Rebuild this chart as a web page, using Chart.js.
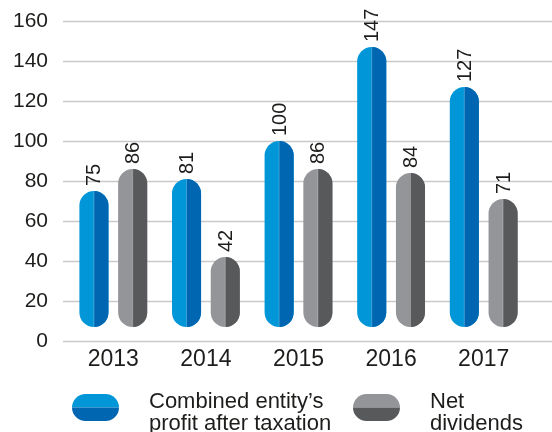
<!DOCTYPE html>
<html>
<head>
<meta charset="utf-8">
<script src="https://cdn.jsdelivr.net/npm/chart.js@4.4.0/dist/chart.umd.min.js"></script>
<style>
  html, body { margin: 0; padding: 0; background: #fff; }
  #chartDisplay { width: 552px; height: 432px; }
</style>
</head>
<body>
<div id="chartDisplay"><canvas id="myChart" width="552" height="432"></canvas></div>
<script>
const years = ['2013', '2014', '2015', '2016', '2017'];
const profit = [75, 81, 100, 147, 127];
const dividends = [86, 42, 86, 84, 71];
const seriesNames = [['Combined entity\u2019s', 'profit after taxation'], ['Net', 'dividends']];

const fontFamily = '"Liberation Sans", Arial, Helvetica, sans-serif';
const textColor = '#1d1d1b';
// light / dark half of each pill
const blueTones = ['#0096d8', '#0066b1'];
const greyTones = ['#939598', '#58595b'];
const barBase = 7; // pills float a little above zero

// horizontal grid lines running past the plot, and the y tick labels
const gridPlugin = {
  id: 'grid',
  beforeDatasetsDraw(chart) {
    const ctx = chart.ctx;
    const y = chart.scales.y;
    ctx.save();
    ctx.strokeStyle = '#c9c9c9';
    ctx.lineWidth = 1.4;
    ctx.font = '21px ' + fontFamily;
    ctx.fillStyle = textColor;
    ctx.textAlign = 'right';
    ctx.textBaseline = 'middle';
    y.ticks.forEach(t => {
      const py = Math.round(y.getPixelForValue(t.value)) + 0.5;
      ctx.beginPath();
      ctx.moveTo(chart.chartArea.left - 4, py);
      ctx.lineTo(chart.width, py);
      ctx.stroke();
      ctx.fillText(String(t.value), chart.chartArea.left - 19, py);
    });
    ctx.restore();
  }
};

// right half of each pill in the darker tone, plus the value labels
const pillPlugin = {
  id: 'pills',
  afterDatasetsDraw(chart) {
    const ctx = chart.ctx;
    chart.data.datasets.forEach((ds, di) => {
      const meta = chart.getDatasetMeta(di);
      meta.data.forEach((bar, i) => {
        const p = bar.getProps(['x', 'y', 'base', 'width'], true);
        const left = p.x - p.width / 2;
        const top = Math.min(p.y, p.base);
        const h = Math.abs(p.base - p.y);
        ctx.save();
        ctx.beginPath();
        ctx.rect(p.x, top - 2, p.width, h + 4);
        ctx.clip();
        ctx.beginPath();
        ctx.roundRect(left, top, p.width, h, p.width / 2);
        ctx.fillStyle = ds.darkColor;
        ctx.fill();
        ctx.restore();

        // thin seam in the middle
        ctx.save();
        ctx.strokeStyle = 'rgba(255,255,255,0.25)';
        ctx.lineWidth = 1;
        ctx.beginPath();
        ctx.moveTo(p.x, top);
        ctx.lineTo(p.x, top + h);
        ctx.stroke();
        ctx.restore();

        // value label, rotated
        ctx.save();
        ctx.translate(p.x, top - 5);
        ctx.rotate(-Math.PI / 2);
        ctx.font = '20px ' + fontFamily;
        ctx.fillStyle = textColor;
        ctx.textAlign = 'left';
        ctx.textBaseline = 'middle';
        ctx.fillText(String(ds.values[i]), 0, 1);
        ctx.restore();
      });
    });
  }
};

const legendPlugin = {
  id: 'pillLegend',
  afterDraw(chart) {
    const ctx = chart.ctx;
    const items = [
      { x: 72, tones: blueTones, lines: seriesNames[0] },
      { x: 353, tones: greyTones, lines: seriesNames[1] }
    ];
    const w = 47, h = 27, cy = 407.5;
    items.forEach(it => {
      ctx.save();
      ctx.beginPath();
      ctx.roundRect(it.x, cy - h / 2, w, h, h / 2);
      ctx.clip();
      ctx.fillStyle = it.tones[0];
      ctx.fillRect(it.x, cy - h / 2, w, h / 2);
      ctx.fillStyle = it.tones[1];
      ctx.fillRect(it.x, cy, w, h / 2);
      ctx.restore();

      ctx.save();
      ctx.font = '22px ' + fontFamily;
      ctx.fillStyle = textColor;
      ctx.textAlign = 'left';
      ctx.textBaseline = 'alphabetic';
      ctx.fillText(it.lines[0], it.x + 77, 408);
      ctx.fillText(it.lines[1], it.x + 77, 430);
      ctx.restore();
    });
  }
};

function makeChart() {
  const data = {
    labels: years,
    datasets: [
      {
        label: seriesNames[0].join(' '),
        data: profit.map(v => [barBase, v]),
        values: profit,
        backgroundColor: blueTones[0],
        darkColor: blueTones[1]
      },
      {
        label: seriesNames[1].join(' '),
        data: dividends.map(v => [barBase, v]),
        values: dividends,
        backgroundColor: greyTones[0],
        darkColor: greyTones[1]
      }
    ]
  };

  const config = {
    type: 'bar',
    data,
    options: {
      responsive: false,
      animation: false,
      layout: { padding: { top: 21, right: 22, bottom: 61, left: 0 } },
      datasets: {
        bar: {
          borderRadius: 15,
          borderSkipped: false,
          categoryPercentage: 0.837,
          barPercentage: 0.75
        }
      },
      plugins: {
        legend: { display: false },
        tooltip: { enabled: false }
      },
      scales: {
        x: {
          grid: { display: false },
          border: { display: false },
          ticks: {
            font: { family: fontFamily, size: 23 },
            color: textColor,
            padding: -3
          },
          afterFit(scale) { scale.height = 30; }
        },
        y: {
          min: 0,
          max: 160,
          grid: { display: false, drawTicks: false },
          border: { display: false },
          ticks: { stepSize: 20, display: false },
          afterFit(scale) { scale.width = 67; }
        }
      }
    },
    plugins: [gridPlugin, pillPlugin, legendPlugin]
  };

  return new Chart(document.getElementById('myChart'), config);
}
makeChart();
</script>
</body>
</html>
